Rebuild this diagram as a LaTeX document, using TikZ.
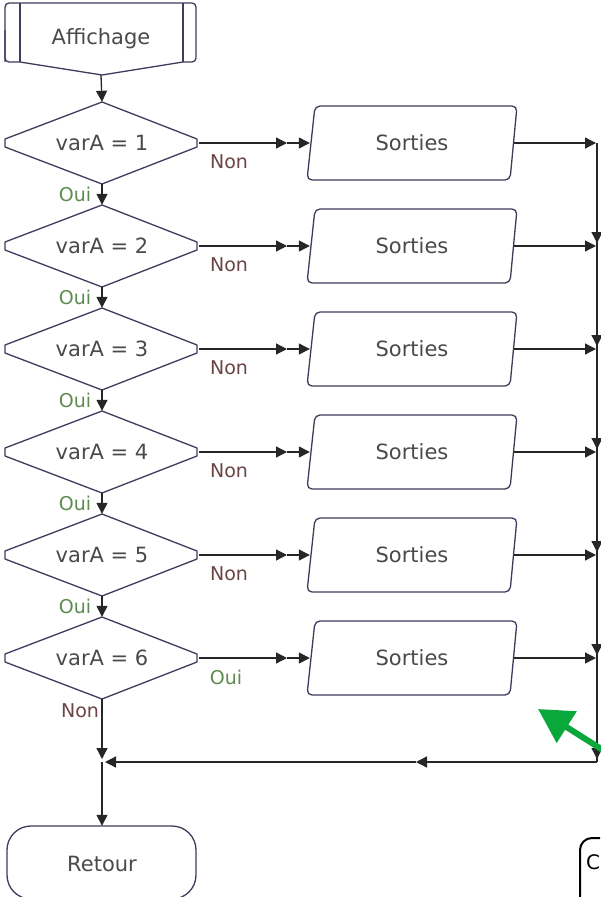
\documentclass[tikz,border=0pt]{standalone}
\usepackage{fontspec}
\setmainfont{DejaVu Sans}
\usetikzlibrary{arrows.meta}
\definecolor{outl}{HTML}{3C3C5C}
\definecolor{txt}{HTML}{4A4A4A}
\definecolor{ouig}{HTML}{5E8C50}
\definecolor{nonr}{HTML}{6B4545}
\definecolor{gr}{HTML}{0AA83A}
\begin{document}
\begin{tikzpicture}[x=1pt,y=-1pt,
  outline/.style={draw=outl,line width=1.3pt,line join=round},
  flow/.style={draw=black!85,line width=1.3pt,-{Triangle[length=11pt,width=11pt]}},
  plain/.style={draw=black!85,line width=1.3pt},
  lbl/.style={font=\fontsize{21}{24}\selectfont,text=txt,inner sep=0pt},
  ouilbl/.style={font=\fontsize{19}{22}\selectfont,text=ouig,inner sep=0pt},
  nonlbl/.style={font=\fontsize{19}{22}\selectfont,text=nonr,inner sep=0pt}]
\useasboundingbox (0,0) rectangle (600,897);
\fill[white] (0,0) rectangle (600,897);

% Affichage
\node[lbl,minimum width=191pt,minimum height=72pt] (aff) at (101,39) {Affichage};
\draw[outline,rounded corners=4pt] (5,62) -- (5,3) -- (196,3) -- (196,62) -- (183,62);
\draw[outline] (183,62) -- (102,75) -- (20,62);
\draw[outline,rounded corners=4pt] (20,62) -- (5,62) -- (5,30);
\draw[outline] (20,3) -- (20,62);
\draw[outline] (183,3) -- (183,62);

\foreach \k in {1,...,6}{
  \pgfmathsetmacro\c{143+(\k-1)*103}
  \node[lbl,minimum width=194pt,minimum height=82pt] (d\k) at (102,\c) {varA = \k};
  \draw[outline] (102,\c-41) -- (197,\c-4) -- (197,\c+4) -- (102,\c+41) -- (5,\c+4) -- (5,\c-4) -- cycle;
  \node[lbl,minimum width=204pt,minimum height=74pt] (s\k) at (412,\c) {Sorties};
  \draw[outline,rounded corners=5pt] (315,\c-37) -- (517,\c-37) -- (510,\c+37) -- (307,\c+37) -- cycle;
  \coordinate (m\k) at (287,\c);
  \coordinate (t\k) at (596,\c);
  \draw[flow] (d\k.east) -- (m\k);
  \draw[flow] (m\k) -- (s\k.west);
  \draw[flow] (s\k.east) -- (t\k);
}

% vertical flow between diamonds
\draw[flow] (aff.south) -- (d1.north);
\foreach \k [count=\n from 2] in {1,...,5}{
  \draw[flow] (d\k.south) -- (d\n.north);
  \pgfmathsetmacro\c{143+(\k-1)*103}
  \node[ouilbl] at (75,\c+51) {Oui};
  \node[nonlbl] at (229,\c+19) {Non};
}
\node[ouilbl] at (226,677) {Oui};
\node[nonlbl] at (80,711) {Non};

% right collector
\coordinate (j1) at (597,143);
\coordinate (cr) at (597,762);
\draw[plain] (j1) -- (cr);
\foreach \k in {2,...,6}{
  \pgfmathsetmacro\c{143+(\k-1)*103}
  \draw[flow] (597,\c-30) -- (597,\c-3);
}
\draw[flow] (597,730) -- (597,759);

% bottom return line
\coordinate (mb) at (416,762);
\coordinate (jb) at (102,762);
\coordinate (jbt) at (105,762);
\draw[flow] (cr) -- (mb);
\draw[flow] (mb) -- (jbt);
\coordinate (dv) at (102,759);
\draw[flow] (d6.south) -- (dv);

% Retour
\node[lbl,minimum width=189pt,minimum height=76pt] (ret) at (102,864) {Retour};
\draw[outline,rounded corners=24pt] (7,826) rectangle (196,899);
\draw[flow] (jb) -- (ret.north);

% green annotation arrow
\draw[gr,line width=6pt,-{Triangle[length=34pt,width=36pt]}] (606,752) -- (538,709);

% partial callout
\begin{scope}
\clip (0,0) rectangle (600,897);
\draw[black,line width=2pt,rounded corners=12pt] (580,905) -- (580,838) -- (615,838);
\node[anchor=west,inner sep=0pt,font=\fontsize{20}{24}\selectfont] at (586,862) {C};
\end{scope}
\end{tikzpicture}
\end{document}
